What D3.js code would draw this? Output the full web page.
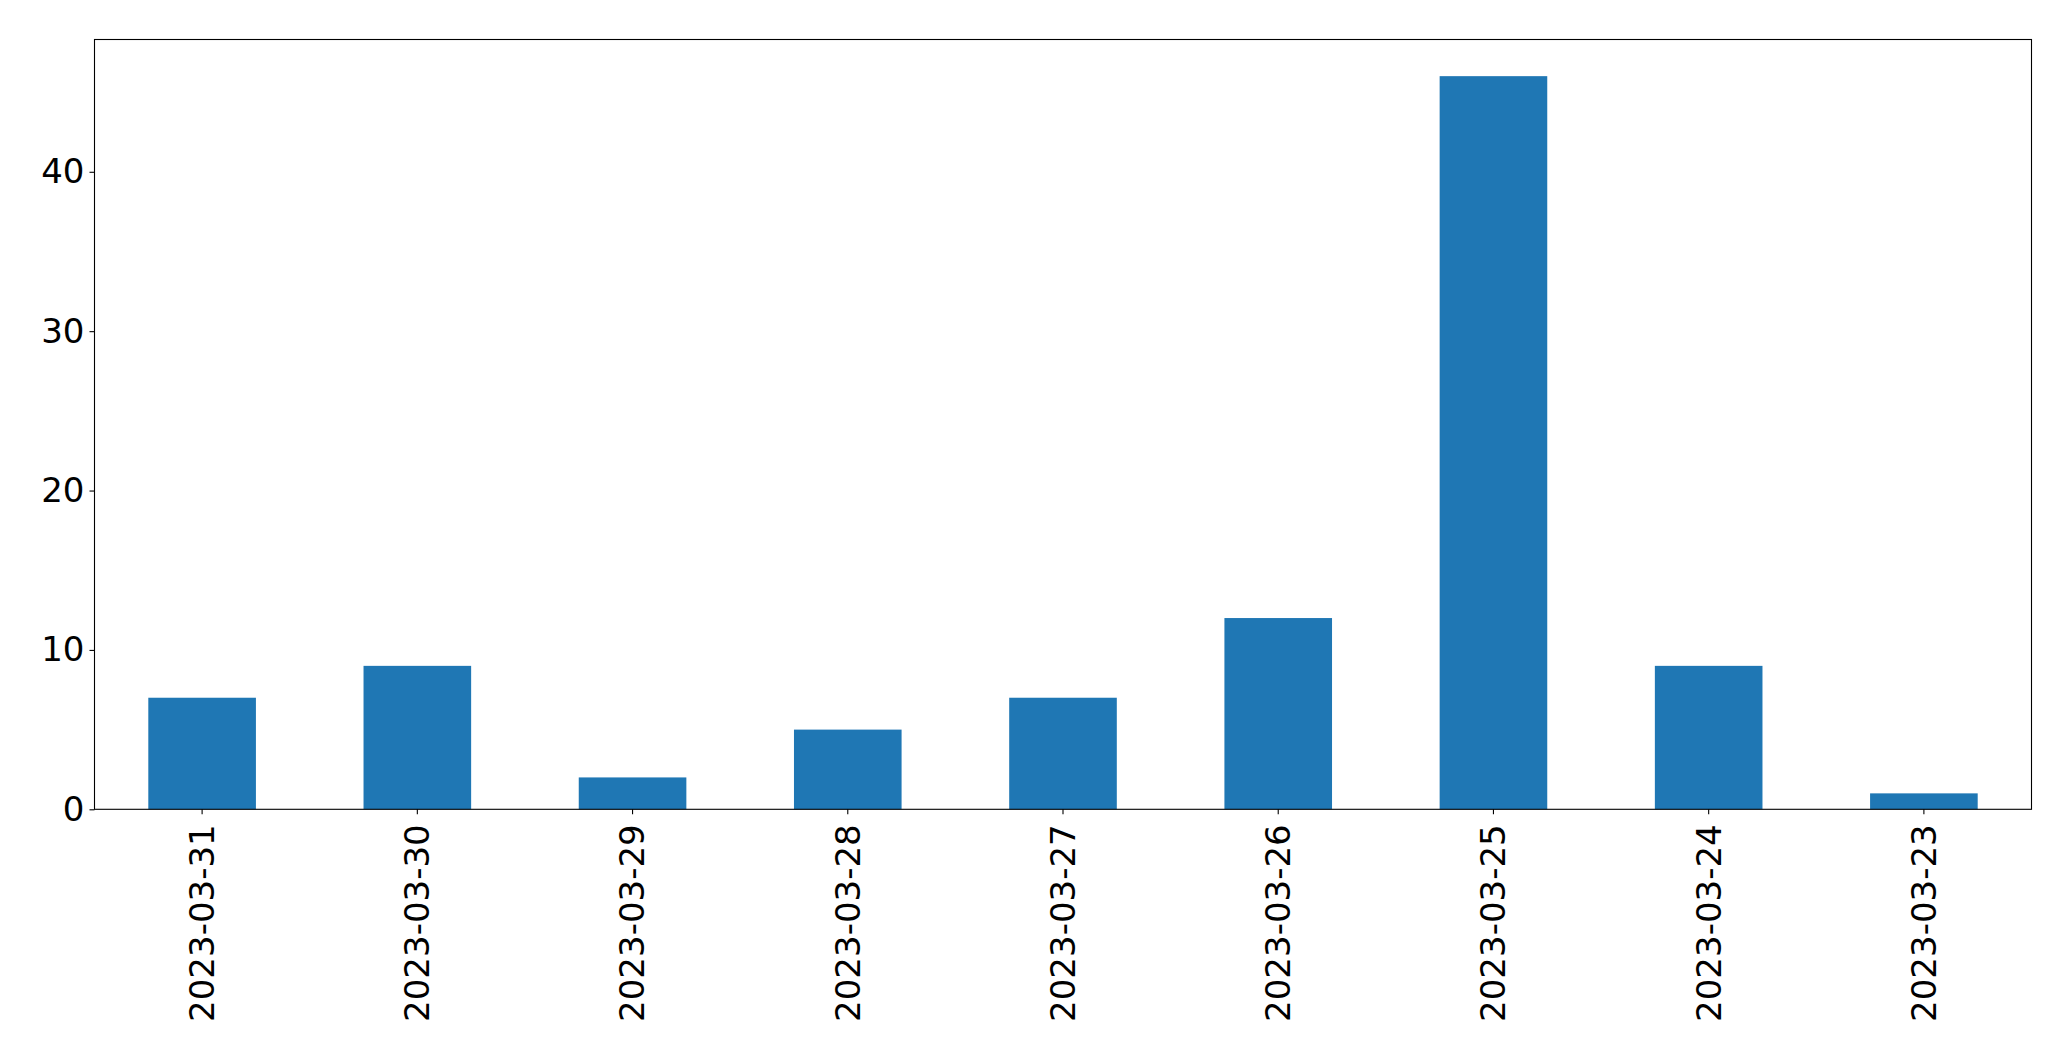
<!DOCTYPE html>
<html><head><meta charset="utf-8">
<script src="https://cdn.jsdelivr.net/npm/d3@7"></script>
<style>html,body{margin:0;padding:0;background:#fff;}</style>
</head><body>
<svg id="chart" width="2071" height="1061"></svg>
<script>
const categories = ["2023-03-31","2023-03-30","2023-03-29","2023-03-28","2023-03-27","2023-03-26","2023-03-25","2023-03-24","2023-03-23"];
const values = [7, 9, 2, 5, 7, 12, 46, 9, 1];
const yTicks = [0, 10, 20, 30, 40];

const m = {left: 94.5, right: 2031.5, top: 39.5, bottom: 809.3};
const svg = d3.select("#chart");
const x = d3.scaleBand().domain(categories).range([m.left, m.right]).paddingInner(0.5).paddingOuter(0.25);
const y = d3.scaleLinear().domain([0, d3.max(values) * 1.05]).range([m.bottom, m.top]);

svg.append("g").selectAll("rect").data(values).join("rect")
  .attr("x", (d, i) => x(categories[i]))
  .attr("width", x.bandwidth())
  .attr("y", d => y(d))
  .attr("height", d => y(0) - y(d))
  .attr("fill", "#1f77b4");

const font = "DejaVu Sans, sans-serif";
const fs = "34px";
const yAxis = svg.append("g").attr("transform", `translate(${m.left},0)`)
  .call(d3.axisLeft(y).tickValues(yTicks).tickSize(5).tickPadding(5));
yAxis.select(".domain").remove();
yAxis.selectAll("text").attr("font-family", font).attr("font-size", fs).attr("fill", "#000");
yAxis.selectAll("line").attr("stroke", "#000").attr("stroke-width", 1.1);

const xAxis = svg.append("g").attr("transform", `translate(0,${m.bottom})`)
  .call(d3.axisBottom(x).tickSize(5).tickPadding(7));
xAxis.select(".domain").remove();
xAxis.selectAll("line").attr("stroke", "#000").attr("stroke-width", 1.1);
xAxis.selectAll("text")
  .attr("font-family", font).attr("font-size", fs).attr("fill", "#000")
  .attr("transform", "rotate(-90)")
  .attr("text-anchor", "end")
  .attr("dy", "0.35em")
  .attr("x", -15)
  .attr("y", 0);

svg.append("rect")
  .attr("x", m.left).attr("y", m.top)
  .attr("width", m.right - m.left).attr("height", m.bottom - m.top)
  .attr("fill", "none").attr("stroke", "#000").attr("stroke-width", 1.1);
</script>
</body></html>
